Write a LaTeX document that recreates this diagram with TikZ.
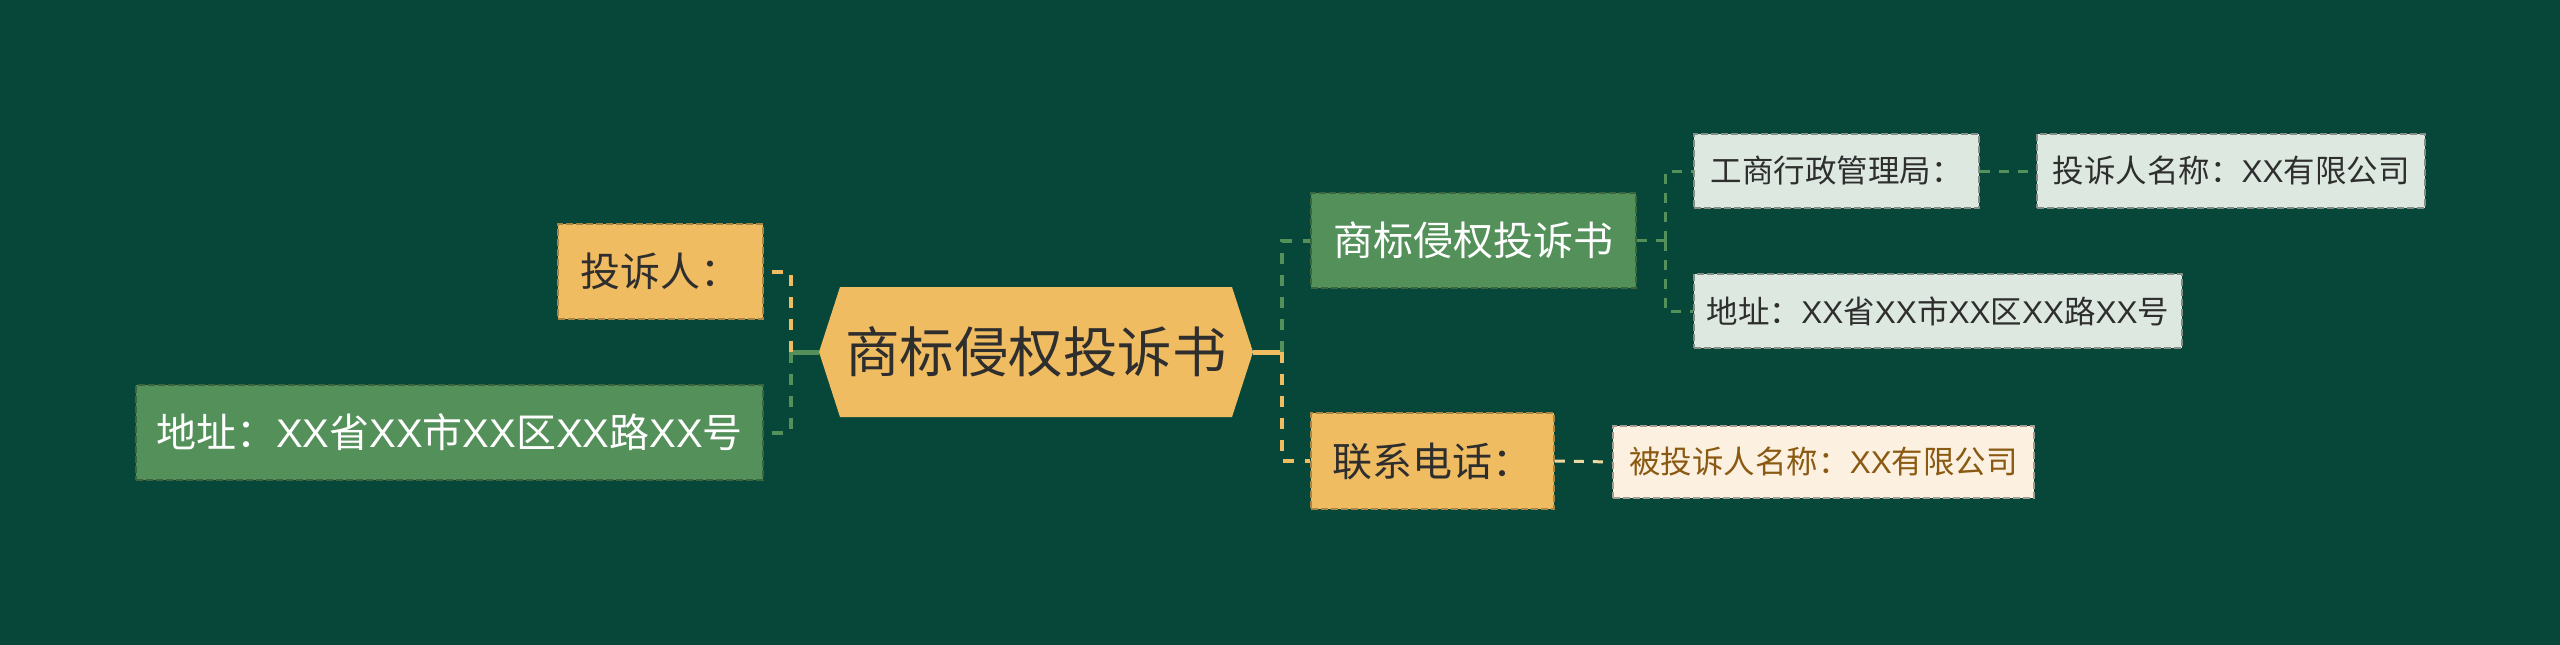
\documentclass[tikz,border=0pt]{standalone}
\usepackage{fontspec}
\setmainfont{Noto Sans CJK SC}
\newfontfamily\latfont{Liberation Sans}
\newcommand\xxmark{{\latfont XX}}
\usetikzlibrary{calc}
\definecolor{bgc}{HTML}{07473A}
\definecolor{orc}{HTML}{F0BC62}
\definecolor{grc}{HTML}{54905A}
\definecolor{ltc}{HTML}{DDE9E0}
\definecolor{crc}{HTML}{FCF0E1}
\definecolor{brc}{HTML}{8B5A12}
\definecolor{dkc}{HTML}{2E2E2E}
\definecolor{crl}{HTML}{EBD7A0}
\begin{document}
\begin{tikzpicture}[x=1pt,y=1pt,
  box/.style={rectangle, inner sep=0pt, line width=1.8pt, dash pattern=on 7pt off 3pt, anchor=center},
  obox/.style={box, fill=orc, draw=orc!70!black, text=dkc, font=\fontsize{40}{48}\selectfont},
  gbox/.style={box, fill=grc, draw=grc!70!black, text=white, font=\fontsize{40}{48}\selectfont},
  lbox/.style={box, fill=ltc, draw=ltc!60!black, text=dkc, font=\fontsize{31.5}{38}\selectfont},
  cbox/.style={box, fill=crc, draw=crc!65!black, text=brc, font=\fontsize{31.5}{38}\selectfont},
  roottxt/.style={rectangle, inner sep=0pt, minimum width=434pt, minimum height=130pt, text=dkc, font=\fontsize{54.5}{62}\selectfont},
  conn/.style={line width=4pt, dash pattern=on 11pt off 11pt},
  conn2/.style={line width=3pt, dash pattern=on 10pt off 9pt},
  solidc/.style={line width=5pt}
]
\useasboundingbox (0,0) rectangle (2560,-645);
\fill[bgc] (0,0) rectangle (2560,-645);

% central hexagon
\coordinate (rc) at (1036,-352);
\fill[orc] ($(rc)+(-217,0)$) -- ($(rc)+(-196,65)$) -- ($(rc)+(196,65)$) -- ($(rc)+(217,0)$) -- ($(rc)+(196,-65)$) -- ($(rc)+(-196,-65)$) -- cycle;
\node[roottxt] (root) at (rc) {商标侵权投诉书};

% left side
\node[obox, minimum width=205pt, minimum height=95pt] (tsr) at (660.5,-271.5) {投诉人：};
\node[gbox, minimum width=627pt, minimum height=95pt] (dzl) at (449.5,-432.5) {地址：\xxmark 省\xxmark 市\xxmark 区\xxmark 路\xxmark 号};

% right side
\node[gbox, minimum width=325pt, minimum height=95pt] (sb) at (1473.5,-240.5) {商标侵权投诉书};
\node[obox, minimum width=243pt, minimum height=96pt] (lx) at (1432.5,-461) {联系电话：};

\node[lbox, minimum width=285pt, minimum height=74pt] (gs) at (1836.5,-171) {工商行政管理局：};
\node[lbox, minimum width=388pt, minimum height=74pt] (tmc) at (2231,-171) {投诉人名称：\xxmark 有限公司};
\node[lbox, minimum width=488pt, minimum height=74pt] (dzr) at (1938,-311) {地址：\xxmark 省\xxmark 市\xxmark 区\xxmark 路\xxmark 号};
\node[cbox, minimum width=421pt, minimum height=72pt] (btmc) at (1823.5,-462) {被投诉人名称：\xxmark 有限公司};

% junction coordinates
\coordinate (lj) at ($(root.west)+(-28,0)$);
\coordinate (rj) at ($(root.east)+(29,0)$);
\coordinate (sj) at ($(sb.east)+(29,0)$);

% connectors
\draw[solidc, grc] (root.west) -- (lj);
\draw[conn, orc] (lj) |- (tsr.east);
\draw[conn, grc] (lj) |- (dzl.east);

\draw[solidc, orc] (root.east) -- (rj);
\draw[conn, grc] (rj) |- (sb.west);
\draw[conn, orc] (rj) |- (lx.west);

\draw[conn2, grc] (sb.east) -- (sj);
\draw[conn2, grc] (sj) |- (gs.west);
\draw[conn2, grc] (sj) |- (dzr.west);
\draw[conn2, grc] (gs.east) -- (tmc.west);
\draw[conn2, crl] (lx.east) -- (btmc.west);
\end{tikzpicture}
\end{document}
